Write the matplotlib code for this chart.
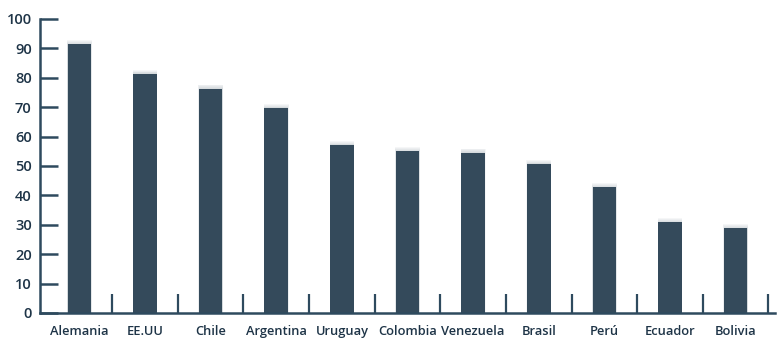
import matplotlib.pyplot as plt

paises = ["Alemania", "EE.UU", "Chile", "Argentina", "Uruguay", "Colombia",
          "Venezuela", "Brasil", "Perú", "Ecuador", "Bolivia"]
valores = [91.4, 81.3, 76.3, 69.7, 57.1, 55.0, 54.5, 50.6, 42.7, 30.8, 28.8]
yticks = [0, 10, 20, 30, 40, 50, 60, 70, 80, 90, 100]

color_barra = "#344a5b"
color_eje = "#2e4a5e"
color_texto = "#1e3447"

fig = plt.figure(figsize=(7.77, 3.39), dpi=100)
ax = fig.add_axes([0.0515, 0.077, 0.946, 0.867])

x = list(range(len(paises)))
# sombra suave sobre cada barra
for desp in [1.4, 1.1, 0.8, 0.5, 0.25]:
    ax.bar(x, [v + desp for v in valores], width=0.36 + 0.012 * desp,
           color="#7d8b96", alpha=0.07, zorder=1, linewidth=0)
ax.bar(x, valores, width=0.36, color=color_barra, zorder=2, linewidth=0)

ax.set_xlim(-0.6, 10.6)
ax.set_ylim(0, 100)
ax.set_yticks(yticks)
ax.set_xticks(x)
ax.set_xticklabels(paises)
ax.set_xticks([i + 0.5 for i in x], minor=True)

for s in ["top", "right"]:
    ax.spines[s].set_visible(False)
for s in ["left", "bottom"]:
    ax.spines[s].set_color(color_eje)
    ax.spines[s].set_linewidth(1.8)

ax.tick_params(axis="y", direction="in", length=13, width=1.8, color=color_eje,
               labelsize=10.5, labelcolor=color_texto, pad=6)
ax.tick_params(axis="x", which="major", length=0, labelsize=9.3,
               labelcolor=color_texto, pad=9)
ax.tick_params(axis="x", which="minor", direction="in", length=14, width=1.6,
               color=color_eje)

for lab in ax.get_xticklabels() + ax.get_yticklabels():
    lab.set_fontfamily("Open Sans")
    lab.set_fontweight("semibold")

fig.savefig("out.png", dpi=100)
